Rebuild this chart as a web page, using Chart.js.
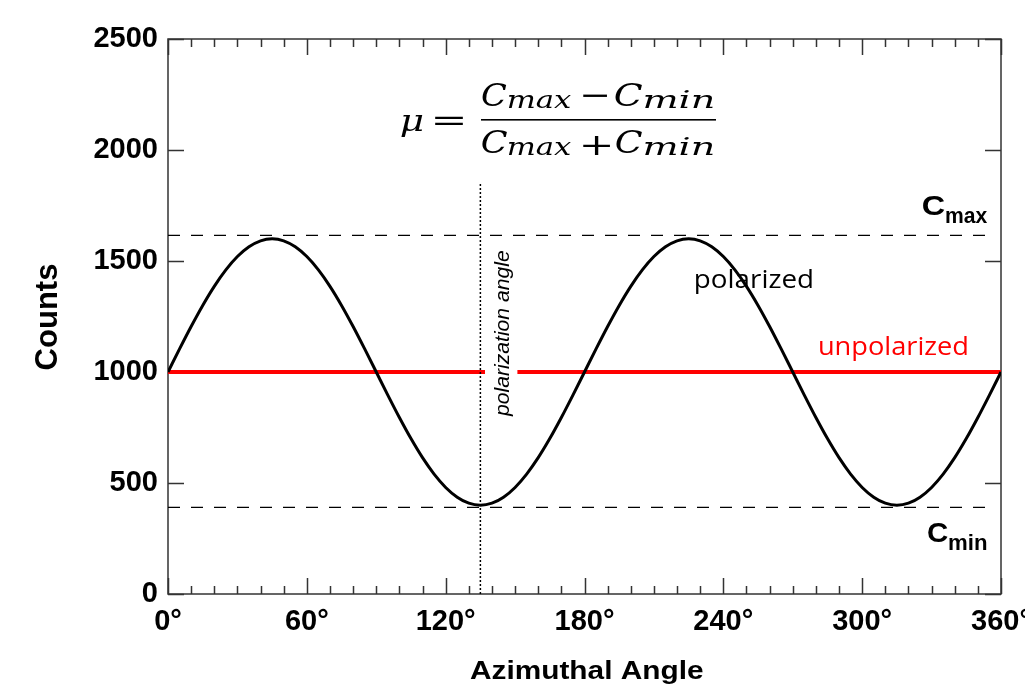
<!DOCTYPE html>
<html>
<head>
<meta charset="utf-8">
<title>Polarization modulation curve</title>
<script src="https://cdn.jsdelivr.net/npm/chart.js@4.4.1/dist/chart.umd.min.js"></script>
<style>
    html, body { margin: 0; padding: 0; background: #fff; }
    #wrap { width: 1025px; height: 695px; position: relative; }
</style>
</head>
<body>
<div id="wrap"><canvas id="chart-modulation"></canvas></div>
<script>
// Data
const angles = [0, 5, 10, 15, 20, 25, 30, 35, 40, 45, 50, 55, 60, 65, 70, 75, 80, 85, 90,
    95, 100, 105, 110, 115, 120, 125, 130, 135, 140, 145, 150, 155, 160, 165, 170, 175, 180,
    185, 190, 195, 200, 205, 210, 215, 220, 225, 230, 235, 240, 245, 250, 255, 260, 265, 270,
    275, 280, 285, 290, 295, 300, 305, 310, 315, 320, 325, 330, 335, 340, 345, 350, 355, 360];
const polarizedCounts = [1000, 1104, 1205, 1300, 1386, 1460, 1520, 1564, 1591, 1600, 1591, 1564, 1520, 1460, 1386, 1300, 1205, 1104, 1000,
    896, 795, 700, 614, 540, 480, 436, 409, 400, 409, 436, 480, 540, 614, 700, 795, 896, 1000,
    1104, 1205, 1300, 1386, 1460, 1520, 1564, 1591, 1600, 1591, 1564, 1520, 1460, 1386, 1300, 1205, 1104, 1000,
    896, 795, 700, 614, 540, 480, 436, 409, 400, 409, 436, 480, 540, 614, 700, 795, 896, 1000];

const unpolarizedLevel = 1000;
const unpolarizedLeftX = [0, 137];     // red line is broken where the label sits
const unpolarizedRightX = [151, 360];

const cMax = 1615;
const cMin = 390;
const limitLineX = [0, 355];

const polarizationAngle = 135;
const polarizationLineY = [0, 1855];

const xTickStep = 60;
const xMinorStep = 10;
const yTickStep = 500;

const BOLD = '"Liberation Sans", Arial, sans-serif';
const SANS = '"Open Sans", "Noto Sans", sans-serif';
const SERIF = '"DejaVu Serif", "Liberation Serif", serif';

function pairs(xs, ys) {
    return xs.map((x, i) => ({ x: x, y: Array.isArray(ys) ? ys[i] : ys }));
}

// Draw text so that its ink spans [left, right] (reference text is stretched sideways)
function fitText(ctx, text, font, left, right, baseline, color) {
    ctx.save();
    ctx.font = font;
    ctx.fillStyle = color;
    ctx.textAlign = 'left';
    ctx.textBaseline = 'alphabetic';
    const m = ctx.measureText(text);
    const inkW = m.actualBoundingBoxLeft + m.actualBoundingBoxRight;
    ctx.translate(left, baseline);
    ctx.scale((right - left) / inkW, 1);
    ctx.fillText(text, m.actualBoundingBoxLeft, 0);
    ctx.restore();
}

// Same, but rotated to read bottom-up; ink spans [bottom, top] on the page
function fitTextUp(ctx, text, font, baselineX, bottom, top, color) {
    ctx.save();
    ctx.font = font;
    ctx.fillStyle = color;
    ctx.textAlign = 'left';
    ctx.textBaseline = 'alphabetic';
    const m = ctx.measureText(text);
    const inkW = m.actualBoundingBoxLeft + m.actualBoundingBoxRight;
    ctx.translate(baselineX, bottom);
    ctx.rotate(-Math.PI / 2);
    ctx.scale((bottom - top) / inkW, 1);
    ctx.fillText(text, m.actualBoundingBoxLeft, 0);
    ctx.restore();
}

const framePlugin = {
    id: 'frame',
    beforeDatasetsDraw(chart) {
        const { ctx, chartArea: a, scales } = chart;
        ctx.save();
        ctx.strokeStyle = '#333';
        ctx.lineWidth = 1.5;
        ctx.strokeRect(a.left, a.top, a.right - a.left, a.bottom - a.top);

        // inward ticks on all four sides
        ctx.beginPath();
        for (let v = scales.x.min; v <= scales.x.max; v += xMinorStep) {
            const px = Math.round(scales.x.getPixelForValue(v)) + 0.5;
            const len = v % xTickStep === 0 ? 16 : 8;
            ctx.moveTo(px, a.bottom); ctx.lineTo(px, a.bottom - len);
            ctx.moveTo(px, a.top); ctx.lineTo(px, a.top + len);
        }
        for (let v = scales.y.min; v <= scales.y.max; v += yTickStep) {
            const py = Math.round(scales.y.getPixelForValue(v)) + 0.5;
            ctx.moveTo(a.left, py); ctx.lineTo(a.left + 16, py);
            ctx.moveTo(a.right, py); ctx.lineTo(a.right - 16, py);
        }
        ctx.stroke();
        ctx.restore();
    },
    afterDraw(chart) {
        const ctx = chart.ctx;

        // axis titles
        ctx.save();
        ctx.font = 'bold 31px ' + BOLD;
        ctx.fillStyle = '#000';
        ctx.textAlign = 'center';
        ctx.textBaseline = 'alphabetic';
        ctx.translate(57, 317);
        ctx.rotate(-Math.PI / 2);
        ctx.fillText('Counts', 0, 0);
        ctx.restore();
        fitText(ctx, 'Azimuthal Angle', 'bold 26px ' + BOLD, 470, 703, 679, '#000');

        // C_max / C_min labels
        fitText(ctx, 'C', 'bold 28px ' + BOLD, 923, 945, 215, '#000');
        fitText(ctx, 'max', 'bold 22px ' + BOLD, 946, 988, 223, '#000');
        fitText(ctx, 'C', 'bold 28px ' + BOLD, 928, 948, 542, '#000');
        fitText(ctx, 'min', 'bold 22px ' + BOLD, 949, 987, 550, '#000');

        // series labels
        fitText(ctx, 'polarized', '26px ' + SANS, 696, 812, 288, '#000');
        fitText(ctx, 'unpolarized', '26px ' + SANS, 820, 967, 355, '#ff0000');
        fitTextUp(ctx, 'polarization angle', 'italic 21px ' + BOLD, 509, 417, 251, '#000');

        // modulation factor formula
        const it = 'italic 31px ' + SERIF;
        const sub = 'italic 24px ' + SERIF;
        const rm = '30px ' + SERIF;
        fitText(ctx, '\u03bc', 'italic 29px ' + SERIF, 401, 423, 131, '#000');
        fitText(ctx, '=', rm, 435, 463, 130, '#000');
        fitText(ctx, 'C', it, 482, 507, 106, '#000');
        fitText(ctx, 'max', sub, 508, 572, 108, '#000');
        fitText(ctx, '\u2212', rm, 583, 607, 105, '#000');
        fitText(ctx, 'C', it, 615, 643, 106, '#000');
        fitText(ctx, 'min', sub, 644, 713, 108, '#000');
        fitText(ctx, 'C', it, 482, 508, 153, '#000');
        fitText(ctx, 'max', sub, 508, 572, 155, '#000');
        fitText(ctx, '+', rm, 583, 610, 155, '#000');
        fitText(ctx, 'C', it, 616, 643, 153, '#000');
        fitText(ctx, 'min', sub, 644, 713, 155, '#000');
        ctx.save();
        ctx.fillStyle = '#000';
        ctx.fillRect(481, 119, 235, 1.6);
        ctx.restore();
    }
};

const chart = new Chart(document.getElementById('chart-modulation'), {
    type: 'scatter',
    data: {
        datasets: [
            {
                label: 'Cmax',
                data: pairs(limitLineX, cMax),
                borderColor: '#000', borderWidth: 1.3, borderDash: [12, 11],
                showLine: true, pointRadius: 0, order: 1
            },
            {
                label: 'Cmin',
                data: pairs(limitLineX, cMin),
                borderColor: '#000', borderWidth: 1.3, borderDash: [12, 11],
                showLine: true, pointRadius: 0, order: 1
            },
            {
                label: 'polarization angle',
                data: pairs([polarizationAngle, polarizationAngle], polarizationLineY),
                borderColor: '#000', borderWidth: 1.5, borderDash: [2, 2],
                showLine: true, pointRadius: 0, order: 2
            },
            {
                label: 'polarized',
                data: pairs(angles, polarizedCounts),
                borderColor: '#000', borderWidth: 3,
                cubicInterpolationMode: 'monotone',
                showLine: true, pointRadius: 0, order: 3
            },
            {
                label: 'unpolarized',
                data: pairs(unpolarizedLeftX, unpolarizedLevel),
                borderColor: '#ff0000', borderWidth: 4,
                showLine: true, pointRadius: 0, order: 4
            },
            {
                label: 'unpolarized (right)',
                data: pairs(unpolarizedRightX, unpolarizedLevel),
                borderColor: '#ff0000', borderWidth: 4,
                showLine: true, pointRadius: 0, order: 4
            }
        ]
    },
    options: {
        responsive: true,
        maintainAspectRatio: false,
        animation: false,
        layout: { padding: { left: 0, right: 24, top: 39, bottom: 0 } },
        plugins: {
            legend: { display: false },
            tooltip: { enabled: false }
        },
        scales: {
            x: {
                type: 'linear',
                min: 0,
                max: 360,
                grid: { display: false, drawTicks: false },
                border: { display: false },
                ticks: {
                    stepSize: xTickStep,
                    padding: 11,
                    color: '#000',
                    maxRotation: 0,
                    autoSkip: false,
                    font: { family: BOLD, size: 29, weight: 'bold' },
                    callback: (v) => v + '\u00b0'
                },
                afterFit: (scale) => {
                    scale.height = 101;
                    scale.paddingLeft = 0;
                    scale.paddingRight = 0;
                }
            },
            y: {
                min: 0,
                max: 2500,
                grid: { display: false, drawTicks: false },
                border: { display: false },
                ticks: {
                    stepSize: yTickStep,
                    padding: 10,
                    color: '#000',
                    font: { family: BOLD, size: 29, weight: 'bold' },
                    callback: (v) => String(v)
                },
                afterFit: (scale) => {
                    scale.width = 168;
                    scale.paddingTop = 0;
                    scale.paddingBottom = 0;
                }
            }
        }
    },
    plugins: [framePlugin]
});
window.chart = chart;
</script>
</body>
</html>
